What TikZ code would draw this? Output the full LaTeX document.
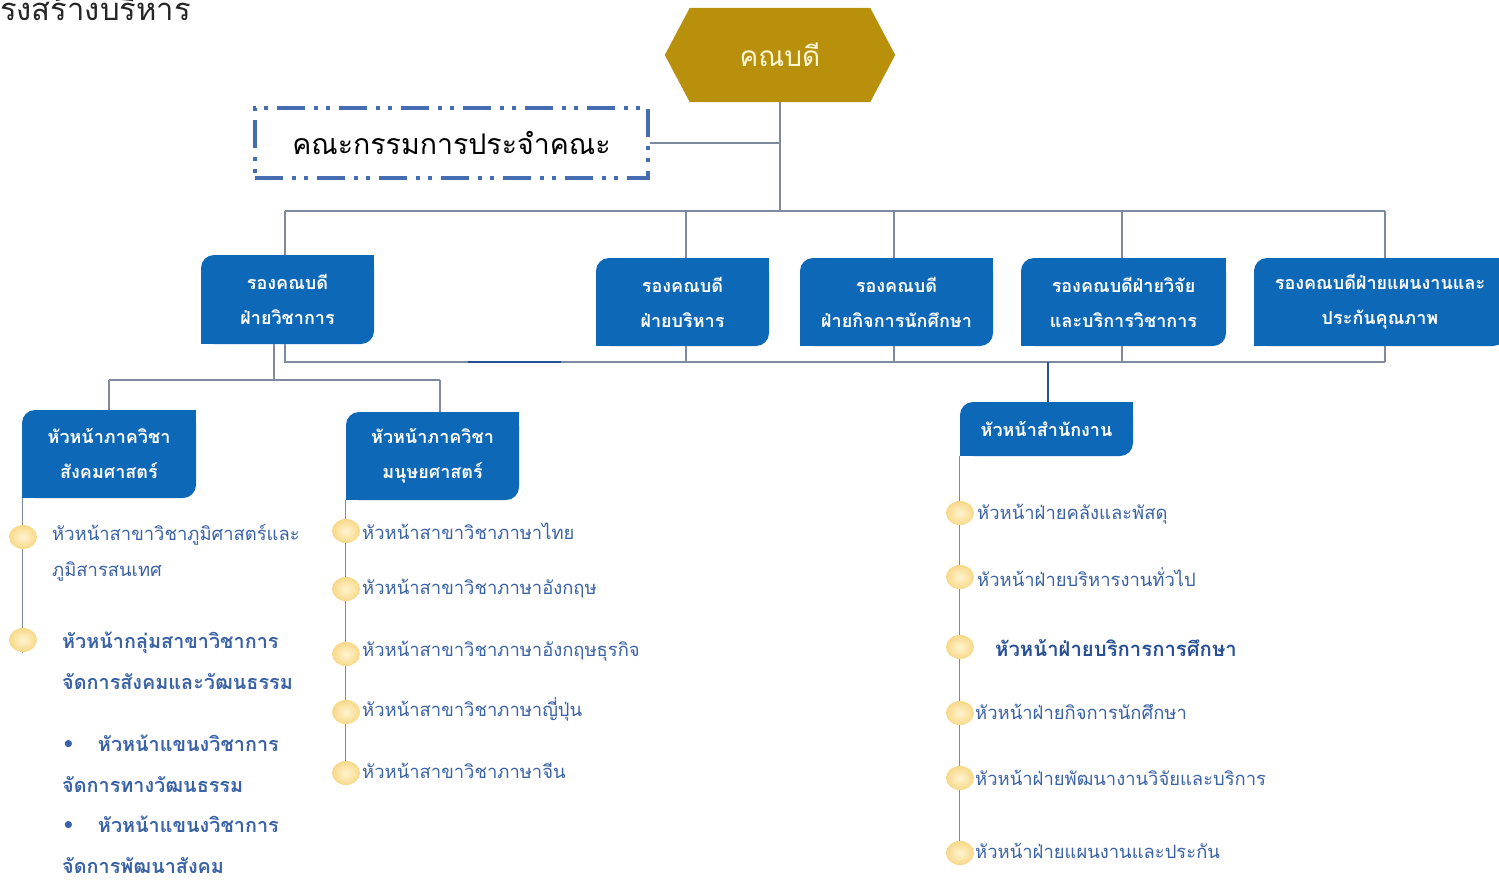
\documentclass[tikz,border=0pt]{standalone}
\usepackage{fontspec}
\setmainfont[Script=Thai]{Loma}
\newfontfamily\dejavu{DejaVu Sans}
\usetikzlibrary{calc,shapes.geometric,backgrounds}
\definecolor{boxblue}{RGB}{14,104,184}
\definecolor{gold}{RGB}{184,144,12}
\definecolor{goldtext}{RGB}{255,246,214}
\definecolor{conn}{RGB}{128,138,158}
\definecolor{dashblue}{RGB}{70,108,178}
\definecolor{itemblue}{RGB}{58,98,166}
\definecolor{darkblue}{RGB}{40,80,150}
\definecolor{bulA}{RGB}{255,244,210}
\definecolor{bulB}{RGB}{247,216,135}
\begin{document}
\begin{tikzpicture}[x=1pt,y=-1pt,
  vbox/.style={fill=boxblue, rounded corners=13pt, text=white, align=center, inner sep=0pt,
    font=\fontsize{18}{35}\selectfont\bfseries},
  conline/.style={draw=conn, line width=1.3pt},
  bul/.style={ellipse, minimum width=28pt, minimum height=24pt, inner sep=0pt,
    inner color=bulA, outer color=bulB},
  item/.style={anchor=west, text=itemblue, inner sep=0pt, align=left,
    font=\fontsize{18.4}{36}\selectfont},
  itemb/.style={item, font=\fontsize{19.8}{41}\selectfont\bfseries},
]
\useasboundingbox (0,0) rectangle (1499,880);

% title
\node[anchor=base west, inner sep=0pt, font=\fontsize{31}{33}\selectfont, text=black!85] (title) at (0,21) {รงสร้างบริหาร};

% dean hexagon
\node[minimum width=180pt, minimum height=94pt, inner sep=0pt, text=goldtext,
  font=\fontsize{28}{30}\selectfont] (dean) at (780,55) {คณบดี};
\begin{scope}[on background layer]
\fill[gold] (dean.north west) -- (dean.north east) -- ($(dean.east)+(25,0)$)
  -- (dean.south east) -- (dean.south west) -- ($(dean.west)+(-25,0)$) -- cycle;
\end{scope}

% committee
\node[draw=dashblue, line width=3.5pt, dash pattern=on 28pt off 9pt on 4pt off 8pt on 4pt off 9pt,
  minimum width=393pt, minimum height=70pt, font=\fontsize{28.5}{30}\selectfont] (comm) at (451.5,143) {คณะกรรมการประจำคณะ};

% bus coordinates
\coordinate (busA) at (0,211);
\coordinate (busB) at (0,362);
\coordinate (busC) at (0,380);
\coordinate (s1) at (468,362);
\coordinate (s2) at (561,362);

% vice dean boxes
\node[vbox, minimum width=173pt, minimum height=89pt] (v1) at (287.5,299.5) {รองคณบดี\\ฝ่ายวิชาการ};
\node[vbox, minimum width=173pt, minimum height=88pt] (v2) at (682.5,302) {รองคณบดี\\ฝ่ายบริหาร};
\node[vbox, minimum width=193pt, minimum height=88pt] (v3) at (896.5,302) {รองคณบดี\\ฝ่ายกิจการนักศึกษา};
\node[vbox, minimum width=205pt, minimum height=88pt] (v4) at (1123.5,302) {รองคณบดีฝ่ายวิจัย\\และบริการวิชาการ};
\node[vbox, minimum width=252pt, minimum height=88pt] (v5) at (1380,302) {รองคณบดีฝ่ายแผนงานและ\\ประกันคุณภาพ};

% heads
\node[vbox, minimum width=174pt, minimum height=88pt] (hs) at (109,454) {หัวหน้าภาควิชา\\สังคมศาสตร์};
\node[vbox, minimum width=173pt, minimum height=88pt] (hh) at (432.5,456) {หัวหน้าภาควิชา\\มนุษยศาสตร์};
\node[vbox, minimum width=173pt, minimum height=54pt] (ho) at (1046.5,429) {หัวหน้าสำนักงาน};

\foreach \n in {v1,v2,v3,v4,v5,hs,hh,ho} {
  \fill[boxblue] (\n.north east) rectangle ++(-15pt,-15pt);
  \fill[boxblue] (\n.south west) rectangle ++(15pt,15pt);
}

% connectors
\draw[conline] (dean.south) -- (dean.south |- busA);
\draw[conline] (comm.east) -- (dean.south |- comm.east);
\draw[conline] ([xshift=-2.5pt]v1.north |- busA) -- ([xshift=5pt]v5.north |- busA);
\draw[conline] ([xshift=-2.5pt]v1.north |- busA) -- ([xshift=-2.5pt]v1.north);
\draw[conline] ([xshift=3.5pt]v2.north |- busA) -- ([xshift=3.5pt]v2.north);
\draw[conline] ([xshift=-2.5pt]v3.north |- busA) -- ([xshift=-2.5pt]v3.north);
\draw[conline] ([xshift=-1.5pt]v4.north |- busA) -- ([xshift=-1.5pt]v4.north);
\draw[conline] ([xshift=5pt]v5.north |- busA) -- ([xshift=5pt]v5.north);

\draw[conline] ([xshift=-2.5pt]v1.south) -- ([xshift=-2.5pt]v1.south |- busB) -- ([xshift=5pt]v5.south |- busB);
\draw[conline] ([xshift=3.5pt]v2.south) -- ([xshift=3.5pt]v2.south |- busB);
\draw[conline] ([xshift=-2.5pt]v3.south) -- ([xshift=-2.5pt]v3.south |- busB);
\draw[conline] ([xshift=-1.5pt]v4.south) -- ([xshift=-1.5pt]v4.south |- busB);
\draw[conline] ([xshift=5pt]v5.south) -- ([xshift=5pt]v5.south |- busB);
\draw[darkblue, line width=2pt] (s1) -- (s2);
\draw[darkblue, line width=2pt] ([xshift=1.5pt]ho.north |- busB) -- ([xshift=1.5pt]ho.north);

\draw[conline] ([xshift=-13.5pt]v1.south) -- ([xshift=-13.5pt]v1.south |- busC);
\draw[conline] (hs.north |- busC) -- ([xshift=7.5pt]hh.north |- busC);
\draw[conline] (hs.north |- busC) -- (hs.north);
\draw[conline] ([xshift=7.5pt]hh.north |- busC) -- ([xshift=7.5pt]hh.north);

% timelines
\draw[conline] ([xshift=1pt]hs.south west) -- ++(0,155);
\draw[conline] (hh.south west) -- ++(0,282);
\draw[conline] (ho.south west) -- ++(0,404);

% bullets
\node[bul] (bs1) at (23,537) {};
\node[bul] (bs2) at (23,640) {};
\node[bul] (bh1) at (346,531) {};
\node[bul] (bh2) at (346,589) {};
\node[bul] (bh3) at (346,654) {};
\node[bul] (bh4) at (346,712) {};
\node[bul] (bh5) at (346,773) {};
\node[bul] (bo1) at (960,513) {};
\node[bul] (bo2) at (960,577) {};
\node[bul] (bo3) at (960,647) {};
\node[bul] (bo4) at (960,713) {};
\node[bul] (bo5) at (960,778) {};
\node[bul] (bo6) at (960,853) {};

% left column texts
\node[item] (ts1) at (52,553) {หัวหน้าสาขาวิชาภูมิศาสตร์และ\\ภูมิสารสนเทศ};
\node[itemb] (ts2) at (62,661) {หัวหน้ากลุ่มสาขาวิชาการ\\จัดการสังคมและวัฒนธรรม};
\node[itemb] (ts3) at (62,764) {{\dejavu\fontsize{20}{41}\selectfont •}\hspace{23pt}หัวหน้าแขนงวิชาการ\\จัดการทางวัฒนธรรม};
\node[itemb] (ts4) at (62,845) {{\dejavu\fontsize{20}{41}\selectfont •}\hspace{23pt}หัวหน้าแขนงวิชาการ\\จัดการพัฒนาสังคม};

% middle column texts
\node[item] (th1) at (362,531) {หัวหน้าสาขาวิชาภาษาไทย};
\node[item] (th2) at (362,589) {หัวหน้าสาขาวิชาภาษาอังกฤษ};
\node[item] (th3) at (362,651) {หัวหน้าสาขาวิชาภาษาอังกฤษธุรกิจ};
\node[item] (th4) at (362,709) {หัวหน้าสาขาวิชาภาษาญี่ปุ่น};
\node[item] (th5) at (362,771) {หัวหน้าสาขาวิชาภาษาจีน};

% office column texts
\node[item] (to1) at (977,514) {หัวหน้าฝ่ายคลังและพัสดุ};
\node[item] (to2) at (977,577) {หัวหน้าฝ่ายบริหารงานทั่วไป};
\node[item, text=darkblue, font=\fontsize{20.3}{24}\selectfont\bfseries] (to3) at (995,648) {หัวหน้าฝ่ายบริการการศึกษา};
\node[item] (to4) at (975,712) {หัวหน้าฝ่ายกิจการนักศึกษา};
\node[item] (to5) at (975,778) {หัวหน้าฝ่ายพัฒนางานวิจัยและบริการ};
\node[item] (to6) at (975,851) {หัวหน้าฝ่ายแผนงานและประกัน};
\end{tikzpicture}
\end{document}
